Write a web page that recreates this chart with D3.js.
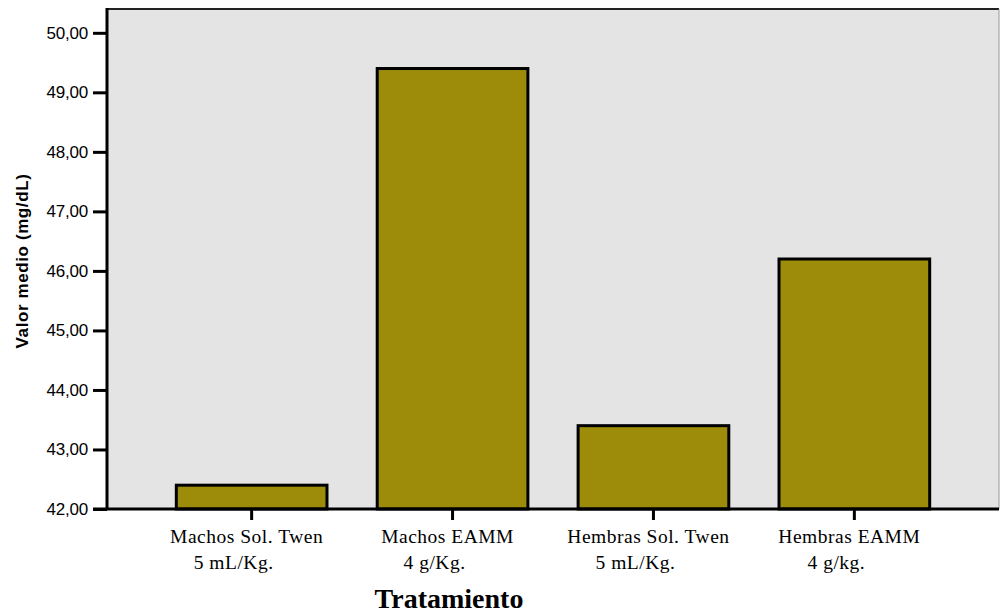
<!DOCTYPE html>
<html>
<head>
<meta charset="utf-8">
<script src="https://cdn.jsdelivr.net/npm/d3@7"></script>
<style>
  body { margin: 0; background: #fff; }
  svg { display: block; }
</style>
</head>
<body>
<svg id="chart" width="1000" height="613"></svg>
<script>
// data
var categories = ["Machos Sol. Twen", "Machos EAMM", "Hembras Sol. Twen", "Hembras EAMM"];
var doses = ["5 mL/Kg.", "4 g/Kg.", "5 mL/Kg.", "4 g/kg."];
var values = [42.4, 49.4, 43.4, 46.2];
var yTicks = [42, 43, 44, 45, 46, 47, 48, 49, 50];

var svg = d3.select("#chart");
var plotL = 107, plotR = 999, plotT = 9, plotB = 509;

var x = d3.scaleBand()
    .domain(categories)
    .range([plotL, plotR])
    .paddingInner(0.25)
    .paddingOuter(0.345);

var y = d3.scaleLinear()
    .domain([42, 50.4])
    .range([plotB, plotT]);

// plot background
svg.append("rect")
    .attr("x", plotL).attr("y", plotT)
    .attr("width", plotR - plotL).attr("height", plotB - plotT)
    .style("fill", "#e4e4e4");

// top and right frame
svg.append("line")
    .attr("x1", plotL).attr("x2", plotR).attr("y1", plotT).attr("y2", plotT)
    .style("stroke", "#222").style("stroke-width", 2);
svg.append("line")
    .attr("x1", plotR).attr("x2", plotR).attr("y1", plotT).attr("y2", plotB)
    .style("stroke", "#999").style("stroke-width", 1);

// bars
svg.append("g").selectAll("rect")
    .data(values)
    .enter().append("rect")
    .attr("x", function(d, i) { return x(categories[i]); })
    .attr("width", x.bandwidth())
    .attr("y", function(d) { return y(d); })
    .attr("height", function(d) { return y(42) - y(d); })
    .style("fill", "#9c8c0a")
    .style("stroke", "#000")
    .style("stroke-width", 3);

// y axis
var yAxis = svg.append("g")
    .attr("transform", "translate(" + plotL + ",0)")
    .call(d3.axisLeft(y).tickValues(yTicks).tickSize(14).tickPadding(5)
        .tickFormat(function(d) { return d3.format(".2f")(d).replace(".", ","); }));
yAxis.select(".domain").remove();
yAxis.append("line")
    .attr("x1", 0).attr("x2", 0).attr("y1", plotT - 1).attr("y2", plotB + 1)
    .style("stroke", "#000").style("stroke-width", 3);
yAxis.selectAll(".tick line").style("stroke", "#000").style("stroke-width", 3);
yAxis.selectAll(".tick text")
    .style("font-family", "Arial, 'Liberation Sans', sans-serif")
    .style("font-size", "17px")
    .style("letter-spacing", "-0.2px")
    .style("fill", "#000");

// x axis
var xAxis = svg.append("g")
    .attr("transform", "translate(0," + plotB + ")")
    .call(d3.axisBottom(x).tickSize(11).tickFormat(""));
xAxis.select(".domain").remove();
xAxis.append("line")
    .attr("x1", plotL - 14).attr("x2", plotR).attr("y1", 0).attr("y2", 0)
    .style("stroke", "#000").style("stroke-width", 3);
xAxis.selectAll(".tick line").style("stroke", "#000").style("stroke-width", 3);

// category labels, two lines
var labels = svg.append("g").selectAll("text")
    .data(categories)
    .enter().append("text")
    .attr("text-anchor", "middle")
    .style("font-family", "'Liberation Serif', 'Times New Roman', serif")
    .style("font-size", "19.5px")
    .style("letter-spacing", "0.5px")
    .style("fill", "#000");
labels.append("tspan")
    .attr("x", function(d) { return x(d) + x.bandwidth() / 2 - 5; })
    .attr("y", 543)
    .text(function(d) { return d; });
labels.append("tspan")
    .attr("x", function(d) { return x(d) + x.bandwidth() / 2 - 18; })
    .attr("y", 569)
    .text(function(d, i) { return doses[i]; });

// axis titles
svg.append("text")
    .attr("x", 449).attr("y", 608)
    .attr("text-anchor", "middle")
    .style("font-family", "'Liberation Serif', 'Times New Roman', serif")
    .style("font-size", "28px")
    .style("font-weight", "bold")
    .text("Tratamiento");

svg.append("text")
    .attr("transform", "translate(28,261) rotate(-90)")
    .attr("text-anchor", "middle")
    .style("font-family", "Arial, 'Liberation Sans', sans-serif")
    .style("font-size", "17px")
    .style("font-weight", "bold")
    .style("letter-spacing", "0.6px")
    .text("Valor medio (mg/dL)");
</script>
</body>
</html>
